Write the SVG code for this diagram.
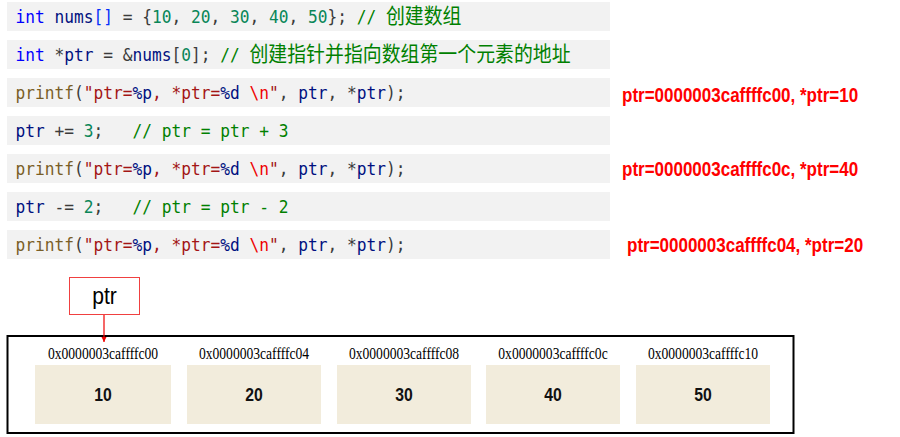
<svg xmlns="http://www.w3.org/2000/svg" width="900" height="437" viewBox="0 0 900 437">
<defs>
<style>
.bar{fill:#f2f2f2}
.code{font-family:"DejaVu Sans Mono","Liberation Mono","Noto Sans CJK SC",monospace;font-size:18px;white-space:pre;fill:#3b3b3b}
.cjk{font-family:"Noto Sans CJK SC","Noto Sans CJK JP",sans-serif;font-size:21px}
.kw{fill:#0000ff}.v{fill:#001080}.br{fill:#0431fa}.n{fill:#098658}.c{fill:#008000}.f{fill:#795e26}.s{fill:#a31515}.e{fill:#ee0000}
.out{font-family:"Liberation Sans",Arial,sans-serif;font-weight:bold;font-size:20px;fill:#ff0000}
.addr{font-family:"Liberation Serif","Times New Roman",serif;font-size:16px;fill:#000;text-anchor:middle}
.cell{fill:#f2ecdc}
.val{font-family:"Liberation Sans",Arial,sans-serif;font-weight:bold;font-size:17.5px;fill:#111;text-anchor:middle}
</style>
<marker id="ah" markerUnits="userSpaceOnUse" markerWidth="6" markerHeight="6" viewBox="0 0 6 6" refX="5" refY="3" orient="auto">
<path d="M0,0.5 L5,3 L0,5.5 Z" fill="#ee0000"/>
</marker>
</defs>
<rect width="900" height="437" fill="#fff"/>
<g id="code">
<rect class="bar" x="7" y="2" width="603" height="29"/>
<rect class="bar" x="7" y="40" width="603" height="29"/>
<rect class="bar" x="7" y="78" width="603" height="29"/>
<rect class="bar" x="7" y="116" width="603" height="29"/>
<rect class="bar" x="7" y="154" width="603" height="29"/>
<rect class="bar" x="7" y="192" width="603" height="29"/>
<rect class="bar" x="7" y="230" width="603" height="29"/>
<text class="code" transform="translate(15.5,23) scale(0.9,1)"><tspan class="kw">int</tspan> <tspan class="v">nums</tspan><tspan class="br">[]</tspan> = {<tspan class="n">10</tspan>, <tspan class="n">20</tspan>, <tspan class="n">30</tspan>, <tspan class="n">40</tspan>, <tspan class="n">50</tspan>}; <tspan class="c">// <tspan class="cjk">创建数组</tspan></tspan></text>
<text class="code" transform="translate(15.5,61) scale(0.9,1)"><tspan class="kw">int</tspan> *<tspan class="v">ptr</tspan> = &amp;<tspan class="v">nums</tspan>[<tspan class="n">0</tspan>]; <tspan class="c">// <tspan class="cjk">创建指针并指向数组第一个元素的地址</tspan></tspan></text>
<text class="code" transform="translate(15.5,99) scale(0.9,1)"><tspan class="f">printf</tspan>(<tspan class="s">"ptr=</tspan><tspan class="v">%p</tspan><tspan class="s">, *ptr=</tspan><tspan class="v">%d</tspan><tspan class="s"> </tspan><tspan class="e">\n</tspan><tspan class="s">"</tspan>, <tspan class="v">ptr</tspan>, *<tspan class="v">ptr</tspan>);</text>
<text class="code" transform="translate(15.5,137) scale(0.9,1)"><tspan class="v">ptr</tspan> += <tspan class="n">3</tspan>;   <tspan class="c">// ptr = ptr + 3</tspan></text>
<text class="code" transform="translate(15.5,175) scale(0.9,1)"><tspan class="f">printf</tspan>(<tspan class="s">"ptr=</tspan><tspan class="v">%p</tspan><tspan class="s">, *ptr=</tspan><tspan class="v">%d</tspan><tspan class="s"> </tspan><tspan class="e">\n</tspan><tspan class="s">"</tspan>, <tspan class="v">ptr</tspan>, *<tspan class="v">ptr</tspan>);</text>
<text class="code" transform="translate(15.5,213) scale(0.9,1)"><tspan class="v">ptr</tspan> -= <tspan class="n">2</tspan>;   <tspan class="c">// ptr = ptr - 2</tspan></text>
<text class="code" transform="translate(15.5,251) scale(0.9,1)"><tspan class="f">printf</tspan>(<tspan class="s">"ptr=</tspan><tspan class="v">%p</tspan><tspan class="s">, *ptr=</tspan><tspan class="v">%d</tspan><tspan class="s"> </tspan><tspan class="e">\n</tspan><tspan class="s">"</tspan>, <tspan class="v">ptr</tspan>, *<tspan class="v">ptr</tspan>);</text>
</g>
<g id="output">
<text class="out" transform="translate(622,101.5) scale(0.85,1)">ptr=0000003caffffc00, *ptr=10</text>
<text class="out" transform="translate(622,176) scale(0.85,1)">ptr=0000003caffffc0c, *ptr=40</text>
<text class="out" transform="translate(627,252) scale(0.85,1)">ptr=0000003caffffc04, *ptr=20</text>
</g>
<g id="memory">
<rect x="7.5" y="336" width="786" height="97" fill="#fff" stroke="#000" stroke-width="2"/>
</g>
<g id="cell0">
<text class="addr" transform="translate(103,359) scale(0.85,1)">0x0000003caffffc00</text>
<rect class="cell" x="35" y="365" width="136" height="59"/>
<text class="val" transform="translate(103,401) scale(0.9,1)">10</text>
</g>
<g id="cell1">
<text class="addr" transform="translate(254,359) scale(0.85,1)">0x0000003caffffc04</text>
<rect class="cell" x="187" y="365" width="134" height="59"/>
<text class="val" transform="translate(254,401) scale(0.9,1)">20</text>
</g>
<g id="cell2">
<text class="addr" transform="translate(404,359) scale(0.85,1)">0x0000003caffffc08</text>
<rect class="cell" x="337" y="365" width="134" height="59"/>
<text class="val" transform="translate(404,401) scale(0.9,1)">30</text>
</g>
<g id="cell3">
<text class="addr" transform="translate(553,359) scale(0.85,1)">0x0000003caffffc0c</text>
<rect class="cell" x="486" y="365" width="134" height="59"/>
<text class="val" transform="translate(553,401) scale(0.9,1)">40</text>
</g>
<g id="cell4">
<text class="addr" transform="translate(703,359) scale(0.85,1)">0x0000003caffffc10</text>
<rect class="cell" x="636" y="365" width="134" height="59"/>
<text class="val" transform="translate(703,401) scale(0.9,1)">50</text>
</g>
<g id="ptr">
<rect x="69.5" y="277.5" width="70" height="37" fill="#fff" stroke="#f04040" stroke-width="1"/>
<text transform="translate(104.5,304) scale(0.92,1)" font-family="Liberation Sans, Arial, sans-serif" font-size="23" text-anchor="middle" fill="#000">ptr</text>
</g>
<g id="connectors">
<path d="M104,315 L104,342" stroke="#ee0000" stroke-width="1.2" fill="none" marker-end="url(#ah)"/>
</g>
</svg>
